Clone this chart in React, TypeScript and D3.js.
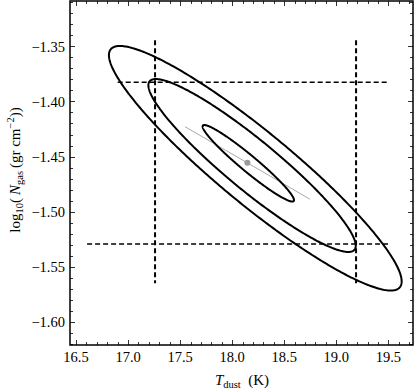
import React from 'react';
import * as d3 from 'd3';

// ---- data ----
const X_TICK_LABELS = [16.5, 17.0, 17.5, 18.0, 18.5, 19.0, 19.5];
const Y_TICK_LABELS = [-1.6, -1.55, -1.5, -1.45, -1.4, -1.35];
const X_DOMAIN = [16.442, 19.737];
const Y_DOMAIN = [-1.6209, -1.3089];

// confidence ellipses (inner, middle, outer)
const ELLIPSE_CX = [18.155, 18.191, 18.222];
const ELLIPSE_CY = [-1.4561, -1.4581, -1.4606];
const ELLIPSE_SX = [0.439, 0.996, 1.406];
const ELLIPSE_SY = [0.0347, 0.0784, 0.1109];
const ELLIPSE_RHO = [-0.962, -0.928, -0.925];

// best fit point and degeneracy line
const BEST_X = [18.146];
const BEST_Y = [-1.4556];
const GRAY_LINE_X = [17.547, 18.748];
const GRAY_LINE_Y = [-1.4229, -1.4887];

// dashed bounds
const V_DASH_X = [17.259, 19.19];
const V_DASH_Y_RANGE = [-1.3445, -1.565];
const H_DASH_Y = [-1.3826, -1.5293];
const H_DASH_X_START = [16.9, 16.606];
const H_DASH_X_END = [19.494, 19.497];

const W = 415;
const H = 391;
const L = 70, R = 413, T = 1, B = 345;
const FONT = '"Liberation Serif", "DejaVu Serif", serif';

export default function App() {
  const x = d3.scaleLinear().domain(X_DOMAIN).range([L, R]);
  const y = d3.scaleLinear().domain(Y_DOMAIN).range([B, T]);

  const line = d3.line<[number, number]>().x(d => x(d[0])).y(d => y(d[1]));
  const ts = d3.range(0, 2 * Math.PI + 0.001, Math.PI / 180);

  const ellipsePaths = ELLIPSE_CX.map((cx, i) => {
    const sx = ELLIPSE_SX[i], sy = ELLIPSE_SY[i], r = ELLIPSE_RHO[i];
    const pts: [number, number][] = ts.map(t => [
      cx + sx * Math.cos(t),
      ELLIPSE_CY[i] + sy * (r * Math.cos(t) + Math.sqrt(1 - r * r) * Math.sin(t)),
    ]);
    return line(pts) + 'Z';
  });

  const xMinor = d3.range(164, 198).map(v => v / 10).filter(v => x(v) > L + 0.5 && x(v) < R - 0.5);
  const yMinor = d3.range(-162, -130).map(v => v / 100).filter(v => y(v) > T + 0.5 && y(v) < B - 0.5);
  const isMajorX = (v: number) => Math.abs(v * 2 - Math.round(v * 2)) < 1e-6;
  const isMajorY = (v: number) => Math.abs(v * 20 - Math.round(v * 20)) < 1e-6;

  const fmtY = (v: number) => '\u2212' + Math.abs(v).toFixed(2);

  return (
    <svg width={W} height={H} style={{ position: 'absolute', left: 0, top: 0, background: '#fff' }}
      fontFamily={FONT}>
      <rect x={0} y={0} width={W} height={H} fill="#fff" />
      {/* ticks */}
      <g stroke="#333" strokeWidth={1}>
        {xMinor.map((v, i) => {
          const len = isMajorX(v) ? 5 : 3;
          const px = Math.round(x(v)) + 0.5;
          return (
            <g key={'xt' + i}>
              <line x1={px} x2={px} y1={B} y2={B - len} />
              <line x1={px} x2={px} y1={T} y2={T + len} />
            </g>
          );
        })}
        {yMinor.map((v, i) => {
          const len = isMajorY(v) ? 5 : 3;
          const py = Math.round(y(v)) + 0.5;
          return (
            <g key={'yt' + i}>
              <line x1={L} x2={L + len} y1={py} y2={py} />
              <line x1={R} x2={R - len} y1={py} y2={py} />
            </g>
          );
        })}
      </g>
      {/* frame */}
      <rect x={L} y={T} width={R - L} height={B - T} fill="none" stroke="#000" strokeWidth={1.5} />

      {/* dashed lines */}
      <g stroke="#000" fill="none" strokeDasharray="5,3">
        {V_DASH_X.map((v, i) => (
          <line key={'v' + i} x1={x(v)} x2={x(v)} y1={y(V_DASH_Y_RANGE[0])} y2={y(V_DASH_Y_RANGE[1])} strokeWidth={2} />
        ))}
        {H_DASH_Y.map((v, i) => (
          <line key={'h' + i} x1={x(H_DASH_X_START[i])} x2={x(H_DASH_X_END[i])} y1={y(v)} y2={y(v)} strokeWidth={1.4} />
        ))}
      </g>

      {/* gray line */}
      <path d={line(GRAY_LINE_X.map((v, i) => [v, GRAY_LINE_Y[i]] as [number, number])) || ''}
        stroke="#aaa" strokeWidth={1} fill="none" />

      {/* ellipses */}
      <g fill="none" stroke="#000" strokeWidth={2}>
        {ellipsePaths.map((d, i) => <path key={'e' + i} d={d} />)}
      </g>

      {/* best-fit point */}
      {BEST_X.map((v, i) => (
        <circle key={'p' + i} cx={x(v)} cy={y(BEST_Y[i])} r={3} fill="#999" />
      ))}

      {/* tick labels */}
      <g fontSize={14.5} fill="#000">
        {X_TICK_LABELS.map((v, i) => (
          <text key={'xl' + i} x={x(v)} y={362} textAnchor="middle">{v.toFixed(1)}</text>
        ))}
        {Y_TICK_LABELS.map((v, i) => (
          <text key={'yl' + i} x={65} y={y(v) + 5.5} textAnchor="end">{fmtY(v)}</text>
        ))}
      </g>

      {/* axis titles */}
      <text x={242} y={385} textAnchor="middle" fontSize={15} fill="#000">
        <tspan fontStyle="italic">T</tspan>
        <tspan fontSize={10.5} dy={2.5}>dust</tspan>
        <tspan dy={-2.5}>{'\u2002(K)'}</tspan>
      </text>
      <text transform={`translate(20,${170}) rotate(-90)`} textAnchor="middle" fontSize={15} fill="#000">
        <tspan>log</tspan>
        <tspan fontSize={10.5} dy={3}>10</tspan>
        <tspan dy={-3}>{'(\u2009'}</tspan>
        <tspan fontStyle="italic">N</tspan>
        <tspan fontSize={10.5} dy={3}>gas</tspan>
        <tspan dy={-3}>{'\u2009(gr cm'}</tspan>
        <tspan fontSize={10.5} dy={-6}>{'\u22122'}</tspan>
        <tspan dy={6}>))</tspan>
      </text>
    </svg>
  );
}
